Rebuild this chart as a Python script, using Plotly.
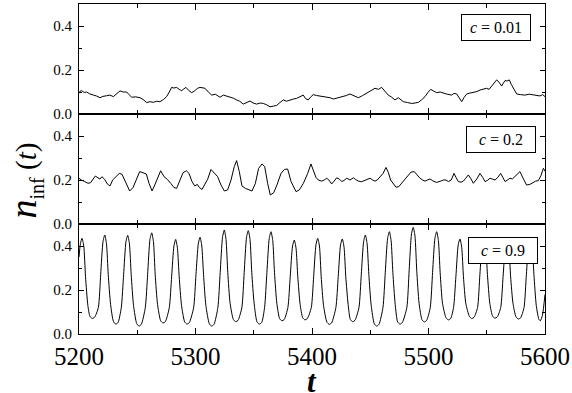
import plotly.graph_objects as go
from plotly.subplots import make_subplots

# ---------------- data ----------------
t_c001 = [5200, 5201, 5202.3, 5204.5, 5206.6, 5209, 5212.3, 5215, 5218, 5220.5, 5223.7, 5226.5, 5229.5,
          5232, 5235.2, 5238, 5240.9, 5243, 5245.2, 5248.5, 5252.4, 5255, 5258.1, 5261, 5263.8, 5266.5,
          5269.5, 5272.5, 5275.2, 5277.5, 5279.5, 5281.5, 5283.8, 5286, 5288.1, 5290, 5291.8, 5294,
          5296.7, 5299, 5301.5, 5303.8, 5306, 5308.1, 5311, 5313.9, 5317, 5321.0, 5323.9, 5326.5, 5329.6,
          5332.5, 5335.3, 5338, 5341.0, 5344, 5346.8, 5349.5, 5352.5, 5355.5, 5358.2, 5361, 5363.9, 5367,
          5369.7, 5372.5, 5375.4, 5378, 5381.1, 5384, 5386.8, 5389.7, 5392.5, 5394.5, 5396.8, 5399,
          5401.1, 5404, 5406.9, 5409.5, 5412.6, 5415.5, 5418.3, 5422.5, 5426.9, 5429.5, 5432.6, 5436,
          5439.8, 5443.5, 5446.9, 5450.5, 5454.1, 5457, 5459.8, 5462.5, 5465.5, 5468, 5471.2, 5474.1,
          5476, 5478.4, 5482, 5485.5, 5488.5, 5491.3, 5494, 5497.0, 5499.5, 5501.9, 5504.5, 5507.0, 5510,
          5512.7, 5516, 5519.9, 5522, 5524.2, 5526.5, 5528.5, 5530.5, 5532.8, 5535.5, 5538.5, 5541.5,
          5544.2, 5547, 5549.9, 5552, 5554.2, 5556.5, 5558.5, 5560.5, 5562.8, 5564.2, 5565.7, 5567.5,
          5569.4, 5571, 5572.8, 5574.3, 5575.7, 5579, 5582.8, 5586.5, 5590.0, 5593, 5595.7, 5598, 5600]
n_c001 = [0.094, 0.104, 0.106, 0.098, 0.100, 0.092, 0.086, 0.082, 0.074, 0.080, 0.083, 0.086, 0.079,
          0.090, 0.105, 0.100, 0.100, 0.088, 0.076, 0.078, 0.074, 0.066, 0.052, 0.056, 0.053, 0.058,
          0.056, 0.066, 0.079, 0.100, 0.121, 0.118, 0.121, 0.112, 0.106, 0.114, 0.121, 0.108,
          0.097, 0.104, 0.116, 0.121, 0.118, 0.117, 0.100, 0.086, 0.090, 0.076, 0.086, 0.082, 0.079,
          0.072, 0.064, 0.058, 0.045, 0.052, 0.059, 0.050, 0.045, 0.050, 0.048, 0.042, 0.033, 0.036,
          0.039, 0.052, 0.064, 0.058, 0.064, 0.068, 0.071, 0.080, 0.086, 0.070, 0.064, 0.078,
          0.088, 0.084, 0.082, 0.080, 0.076, 0.074, 0.068, 0.074, 0.079, 0.084, 0.091, 0.082,
          0.074, 0.084, 0.094, 0.106, 0.117, 0.112, 0.121, 0.104, 0.086, 0.078, 0.064, 0.074,
          0.066, 0.056, 0.052, 0.048, 0.050, 0.053, 0.064, 0.079, 0.098, 0.112, 0.104, 0.097, 0.100,
          0.094, 0.090, 0.086, 0.094, 0.091, 0.070, 0.056, 0.075, 0.091, 0.095, 0.098, 0.102,
          0.109, 0.112, 0.117, 0.112, 0.127, 0.140, 0.155, 0.145, 0.127, 0.140, 0.152, 0.150,
          0.155, 0.135, 0.117, 0.100, 0.091, 0.088, 0.086, 0.090, 0.088, 0.084, 0.082, 0.088, 0.079]

t_c02 = [5200, 5202.0, 5204.9, 5207.7, 5210.0, 5212.0, 5214.0, 5216.3, 5218.0, 5219.7, 5222.0, 5224.3,
         5226.6, 5228.9, 5231.8, 5234.6, 5236.9, 5239.2, 5241.5, 5243.5, 5246.4, 5249.2, 5252.1, 5254.9,
         5257.8, 5260.1, 5262.7, 5265.0, 5267.8, 5270.1, 5273.0, 5275.8, 5278.7, 5281.5, 5283.8, 5286.4,
         5289.3, 5292.1, 5294.4, 5297.0, 5299.3, 5301.6, 5303.3, 5305.6, 5307.6, 5310.4, 5313.3, 5316.2,
         5319.0, 5321.9, 5324.8, 5327.6, 5330.5, 5333.3, 5335.3, 5337.6, 5339.9, 5342.8, 5345.6, 5348.5,
         5351.4, 5354.2, 5357.1, 5359.4, 5361.9, 5364.2, 5367.1, 5369.9, 5373.4, 5376.3, 5379.1, 5382.0,
         5386.3, 5389.1, 5392.6, 5396.3, 5399.1, 5401.1, 5403.4, 5405.4, 5408.3, 5410.5, 5412.6, 5414.5,
         5416.9, 5419.0, 5421.2, 5423.5, 5425.5, 5427.5, 5429.8, 5432.6, 5435.5, 5437.5, 5439.8, 5442.5,
         5445.5, 5447.5, 5449.8, 5452.0, 5454.1, 5456.0, 5458.4, 5461.0, 5463.5, 5465.5, 5467.5, 5469.8,
         5472.1, 5474.5, 5477.0, 5480.0, 5482.7, 5485.0, 5487.8, 5490.0, 5492.7, 5495.0, 5497.0, 5499.0,
         5501.3, 5504.0, 5507.0, 5510.0, 5512.7, 5515.0, 5517.0, 5519.5, 5521.9, 5523.8, 5525.6, 5528.0,
         5529.9, 5532.0, 5534.2, 5536.5, 5538.5, 5541.5, 5544.2, 5546.5, 5548.5, 5550.5, 5552.8, 5555.0,
         5557.1, 5559.5, 5561.9, 5563.8, 5565.7, 5567.8, 5569.9, 5572.0, 5574.2, 5576.5, 5578.5, 5581.5,
         5584.2, 5587.0, 5590.0, 5592.0, 5594.3, 5596.5, 5598.6, 5600]
n_c02 = [0.208, 0.200, 0.193, 0.185, 0.188, 0.203, 0.218, 0.210, 0.204, 0.215, 0.203, 0.182,
         0.173, 0.200, 0.215, 0.230, 0.226, 0.200, 0.170, 0.150, 0.166, 0.203, 0.238, 0.233,
         0.227, 0.185, 0.150, 0.177, 0.218, 0.242, 0.215, 0.203, 0.185, 0.166, 0.162, 0.200,
         0.233, 0.242, 0.230, 0.193, 0.173, 0.180, 0.166, 0.157, 0.177, 0.203, 0.248, 0.230,
         0.215, 0.177, 0.150, 0.155, 0.200, 0.261, 0.288, 0.238, 0.173, 0.162, 0.157, 0.150,
         0.185, 0.253, 0.273, 0.261, 0.185, 0.132, 0.142, 0.177, 0.230, 0.248, 0.250, 0.193,
         0.147, 0.155, 0.185, 0.230, 0.273, 0.245, 0.212, 0.200, 0.195, 0.200, 0.208, 0.200,
         0.182, 0.195, 0.210, 0.204, 0.193, 0.198, 0.208, 0.200, 0.210, 0.202, 0.195, 0.192,
         0.200, 0.205, 0.208, 0.200, 0.195, 0.200, 0.215, 0.230, 0.257, 0.235, 0.200, 0.182,
         0.167, 0.170, 0.185, 0.205, 0.223, 0.236, 0.238, 0.225, 0.208, 0.200, 0.195, 0.200,
         0.205, 0.195, 0.189, 0.194, 0.200, 0.200, 0.193, 0.200, 0.230, 0.210, 0.193, 0.190,
         0.195, 0.208, 0.223, 0.205, 0.185, 0.205, 0.230, 0.212, 0.193, 0.198, 0.208, 0.204,
         0.200, 0.212, 0.230, 0.212, 0.193, 0.200, 0.208, 0.205, 0.215, 0.226, 0.238, 0.205,
         0.177, 0.180, 0.189, 0.195, 0.197, 0.220, 0.253, 0.240]

t_c09 = [5200, 5201.2, 5202.6, 5204.1, 5205.6, 5207.6, 5209.4, 5211.4, 5213.4,
         5216.6, 5218.6, 5220.6, 5222.1, 5223.6, 5225.1, 5227.1, 5229.5, 5231.5, 5233.5,
         5236.3, 5238.3, 5240.3, 5241.8, 5243.3, 5244.8, 5246.8, 5249.5, 5251.5, 5253.5,
         5256.9, 5258.9, 5260.9, 5262.4, 5263.9, 5265.4, 5267.4, 5270.1, 5272.1, 5274.1,
         5277.5, 5279.5, 5281.5, 5283.0, 5284.5, 5286.0, 5288.0, 5290.7, 5292.7, 5294.7,
         5298.4, 5300.4, 5302.4, 5303.9, 5305.4, 5306.9, 5308.9, 5311.9, 5313.9, 5315.9,
         5319.2, 5321.2, 5323.2, 5324.7, 5326.2, 5327.7, 5329.7, 5332.5, 5334.5, 5336.5,
         5339.8, 5341.8, 5343.8, 5345.3, 5346.8, 5348.3, 5350.3, 5352.8, 5354.8, 5356.8,
         5359.3, 5361.3, 5363.3, 5364.8, 5366.3, 5367.8, 5369.8, 5372.2, 5374.2, 5376.2,
         5379.3, 5381.3, 5383.3, 5384.8, 5386.3, 5387.8, 5389.8, 5392.0, 5394.0, 5396.0,
         5399.4, 5401.4, 5403.4, 5404.9, 5406.4, 5407.9, 5409.9, 5412.8, 5414.8, 5416.8,
         5420.5, 5422.5, 5424.5, 5426.0, 5427.5, 5429.0, 5431.0, 5432.9, 5434.9, 5436.9,
         5440.3, 5442.3, 5444.3, 5445.8, 5447.3, 5448.8, 5450.8, 5453.5, 5455.5, 5457.5,
         5460.9, 5462.9, 5464.9, 5466.4, 5467.9, 5469.4, 5471.4, 5473.5, 5475.5, 5477.5,
         5481.4, 5483.4, 5485.4, 5486.9, 5488.4, 5489.9, 5491.9, 5494.4, 5496.4, 5498.4,
         5501.5, 5503.5, 5505.5, 5507.0, 5508.5, 5510.0, 5512.0, 5515.0, 5517.0, 5519.0,
         5521.5, 5523.5, 5525.5, 5527.0, 5528.5, 5530.0, 5532.0, 5535.1, 5537.1, 5539.1,
         5542.1, 5544.1, 5546.1, 5547.6, 5549.1, 5550.6, 5552.6, 5555.1, 5557.1, 5559.1,
         5562.0, 5564.0, 5566.0, 5567.5, 5569.0, 5570.5, 5572.5, 5575.1, 5577.1, 5579.1,
         5582.0, 5584.0, 5586.0, 5587.5, 5589.0, 5590.5, 5592.5, 5594.8, 5596.0, 5597.8, 5600]
n_c09 = [0.350, 0.410, 0.435, 0.400, 0.260, 0.130, 0.080, 0.071, 0.076,
         0.120, 0.270, 0.420, 0.450, 0.410, 0.270, 0.135, 0.058, 0.045, 0.052,
         0.120, 0.270, 0.420, 0.449, 0.410, 0.270, 0.130, 0.048, 0.036, 0.044,
         0.120, 0.270, 0.430, 0.460, 0.420, 0.270, 0.135, 0.060, 0.050, 0.056,
         0.120, 0.260, 0.400, 0.430, 0.390, 0.260, 0.130, 0.055, 0.045, 0.052,
         0.120, 0.270, 0.410, 0.440, 0.400, 0.270, 0.130, 0.046, 0.036, 0.044,
         0.120, 0.280, 0.440, 0.473, 0.430, 0.280, 0.140, 0.066, 0.056, 0.062,
         0.120, 0.280, 0.440, 0.470, 0.430, 0.280, 0.140, 0.055, 0.045, 0.052,
         0.120, 0.280, 0.435, 0.465, 0.425, 0.280, 0.140, 0.070, 0.060, 0.066,
         0.120, 0.260, 0.400, 0.427, 0.390, 0.260, 0.135, 0.074, 0.064, 0.070,
         0.120, 0.260, 0.405, 0.435, 0.400, 0.260, 0.130, 0.054, 0.044, 0.050,
         0.120, 0.260, 0.405, 0.432, 0.395, 0.260, 0.135, 0.066, 0.056, 0.062,
         0.120, 0.270, 0.420, 0.450, 0.410, 0.270, 0.130, 0.046, 0.036, 0.044,
         0.120, 0.280, 0.435, 0.465, 0.425, 0.280, 0.135, 0.055, 0.045, 0.052,
         0.120, 0.290, 0.455, 0.485, 0.445, 0.290, 0.140, 0.065, 0.055, 0.062,
         0.120, 0.280, 0.435, 0.465, 0.425, 0.280, 0.140, 0.074, 0.064, 0.070,
         0.120, 0.260, 0.405, 0.432, 0.395, 0.260, 0.140, 0.080, 0.070, 0.076,
         0.120, 0.270, 0.410, 0.440, 0.400, 0.270, 0.140, 0.080, 0.072, 0.078,
         0.120, 0.260, 0.400, 0.430, 0.390, 0.260, 0.140, 0.078, 0.068, 0.074,
         0.120, 0.270, 0.410, 0.440, 0.400, 0.270, 0.130, 0.066, 0.060, 0.085, 0.180]

panel_labels = ["<i>c</i> = 0.01", "<i>c</i> = 0.2", "<i>c</i> = 0.9"]
y_ticks = [0.0, 0.2, 0.4]
y_tick_text = ["0.0", "0.2", "0.4"]
x_ticks = [5200, 5300, 5400, 5500, 5600]
x_tick_text = ["5200", "5300", "5400", "5500", "5600"]

FONT = "Times New Roman, Liberation Serif, Times, serif"

fig = make_subplots(rows=3, cols=1, shared_xaxes=True, vertical_spacing=0)

series = [(t_c001, n_c001, "linear"), (t_c02, n_c02, "linear"), (t_c09, n_c09, "spline")]
for i, (tx, ny, shape) in enumerate(series, start=1):
    fig.add_trace(go.Scatter(x=tx, y=ny, mode="lines",
                             line=dict(color="black", width=1, shape=shape, smoothing=0.6),
                             showlegend=False, hoverinfo="skip"), row=i, col=1)

for i in range(1, 4):
    fig.update_yaxes(range=[0, 0.5], tickvals=y_ticks, ticktext=y_tick_text,
                     ticks="inside", ticklen=5, tickwidth=1, tickcolor="black",
                     minor=dict(dtick=0.1, tick0=0, ticks="inside", ticklen=3, tickwidth=1, tickcolor="black"),
                     showline=True, linecolor="black", linewidth=1.2, mirror="ticks",
                     showgrid=False, zeroline=False, ticklabelstandoff=3, automargin=False,
                     tickfont=dict(family=FONT, size=15, color="black"), row=i, col=1)
    fig.update_xaxes(range=[5200, 5600], tickvals=x_ticks, ticktext=x_tick_text,
                     ticks="inside", ticklen=6, tickwidth=1, tickcolor="black",
                     minor=dict(dtick=50, tick0=5200, ticks="inside", ticklen=4, tickwidth=1, tickcolor="black"),
                     showline=True, linecolor="black", linewidth=1.2, mirror="ticks",
                     showgrid=False, zeroline=False, automargin=False,
                     tickfont=dict(family=FONT, size=25, color="black"), row=i, col=1)

# panel labels (boxed)
label_pos = [(0.895, 0.929), (0.906, 0.589), (0.909, 0.2545)]
for txt, (px, py) in zip(panel_labels, label_pos):
    fig.add_annotation(x=px, y=py, xref="paper", yref="paper", text=txt, showarrow=False,
                       xanchor="center", yanchor="middle", width=62, height=19, borderpad=3,
                       bordercolor="black", borderwidth=1, bgcolor="white",
                       font=dict(family=FONT, size=16, color="black"))

# axis titles
fig.add_annotation(x=-0.116, y=0.465, xref="paper", yref="paper", textangle=-90, showarrow=False,
                   xanchor="center", yanchor="middle", height=40,
                   text='<i>n</i><sub><span style="font-size:20px">inf</span></sub><span style="font-size:29px"> (<i>t</i>)</span>',
                   font=dict(family=FONT, size=38, color="black"))
fig.add_annotation(x=0.5, y=-0.141, xref="paper", yref="paper", showarrow=False,
                   xanchor="center", yanchor="middle", height=22,
                   text="<i><b>t</b></i>", font=dict(family=FONT, size=31, color="black"))

fig.update_layout(width=572, height=393, margin=dict(l=79, r=27, t=4, b=59, autoexpand=False),
                  plot_bgcolor="white", paper_bgcolor="white")

fig.write_html("out.html", config={"displayModeBar": False},
               post_script="document.body.style.margin='0';document.body.style.padding='0';")
